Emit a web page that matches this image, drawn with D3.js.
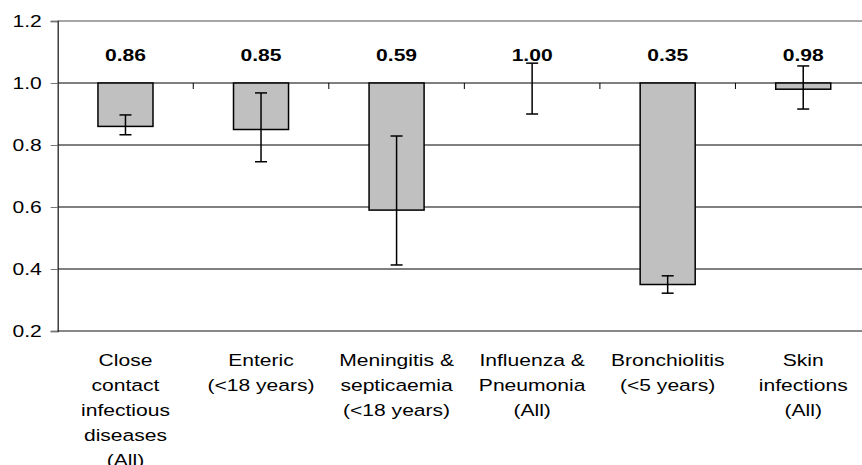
<!DOCTYPE html>
<html>
<head>
<meta charset="utf-8">
<script src="https://cdn.jsdelivr.net/npm/d3@7"></script>
<style>
  html, body { margin: 0; padding: 0; background: #fff; overflow: hidden; }
  text { font-family: Arial, "Liberation Sans", sans-serif; fill: #000; }
</style>
</head>
<body>
<svg id="chart" width="862" height="465"></svg>
<script>
const categories = [
    ["Close", "contact", "infectious", "diseases", "(All)"],
    ["Enteric", "(<18 years)"],
    ["Meningitis &", "septicaemia", "(<18 years)"],
    ["Influenza &", "Pneumonia", "(All)"],
    ["Bronchiolitis", "(<5 years)"],
    ["Skin", "infections", "(All)"]
];
const values = [0.86, 0.85, 0.59, 1.00, 0.35, 0.98];
const lower = [0.833, 0.746, 0.413, 0.90, 0.322, 0.916];
const upper = [0.897, 0.968, 0.829, 1.064, 0.378, 1.055];
const yTicks = [0.2, 0.4, 0.6, 0.8, 1.0, 1.2];

const WIDTH = 862, HEIGHT = 465;
const plotLeft = 57.7, plotTop = 21, plotBottom = 331, plotRight = 871;
const STRETCH = 1.24;   // text in the picture is wider than plain Arial

const svg = d3.select("#chart");

const keys = categories.map((c, i) => i);

const xCat = d3.scaleBand()
    .domain(keys)
    .range([plotLeft, plotRight])
    .padding(0);

const xBar = xCat.copy()
    .paddingInner(0.594)
    .paddingOuter(0.297);

const y = d3.scaleLinear()
    .domain([0.2, 1.2])
    .range([plotBottom, plotTop]);

// gridlines
svg.append("g").selectAll("line")
    .data(yTicks)
    .join("line")
    .attr("x1", plotLeft)
    .attr("x2", WIDTH)
    .attr("y1", d => y(d))
    .attr("y2", d => y(d))
    .attr("stroke", d => (d === 0.2 || d === 1.2) ? "#888" : "#000")
    .attr("stroke-width", d => d === 0.2 ? 2 : (d === 1.2 ? 1.5 : 1));

// left axis
const yAxis = svg.append("g")
    .attr("transform", `translate(${plotLeft},0)`)
    .call(d3.axisLeft(y).tickValues(yTicks).tickSize(7).tickFormat(d3.format(".1f")));
yAxis.select(".domain").attr("stroke", "#222").attr("stroke-width", 1.3);
yAxis.selectAll(".tick line").attr("stroke", "#777");
yAxis.selectAll(".tick text")
    .attr("x", null).attr("dy", null)
    .attr("font-size", 17)
    .attr("dominant-baseline", "middle")
    .attr("text-anchor", "end")
    .attr("transform", `translate(-16,1) scale(${STRETCH},1)`);

// category ticks on the 1.0 line
svg.append("g").selectAll("line")
    .data(keys.slice(1))
    .join("line")
    .attr("x1", d => xCat(d))
    .attr("x2", d => xCat(d))
    .attr("y1", y(1.0))
    .attr("y2", y(1.0) + 6)
    .attr("stroke", "#000")
    .attr("stroke-width", 1);

// bars hang from 1.0
svg.append("g").selectAll("rect")
    .data(keys)
    .join("rect")
    .attr("x", d => xBar(d))
    .attr("width", xBar.bandwidth())
    .attr("y", d => y(Math.max(1, values[d])))
    .attr("height", d => Math.abs(y(values[d]) - y(1)))
    .attr("fill", "#c0c0c0")
    .attr("stroke", "#000")
    .attr("stroke-width", d => values[d] === 1 ? 0 : 1.5);

// error bars
const err = svg.append("g").selectAll("g")
    .data(keys)
    .join("g")
    .attr("stroke", "#000")
    .attr("stroke-width", 1.5);
const cx = d => xBar(d) + xBar.bandwidth() / 2;
err.append("line")
    .attr("x1", cx).attr("x2", cx)
    .attr("y1", d => y(upper[d])).attr("y2", d => y(lower[d]));
err.append("line")
    .attr("x1", d => cx(d) - 6).attr("x2", d => cx(d) + 6)
    .attr("y1", d => y(upper[d])).attr("y2", d => y(upper[d]));
err.append("line")
    .attr("x1", d => cx(d) - 6).attr("x2", d => cx(d) + 6)
    .attr("y1", d => y(lower[d])).attr("y2", d => y(lower[d]));

// value labels
svg.append("g").selectAll("text")
    .data(keys)
    .join("text")
    .attr("transform", d => `translate(${cx(d)},61) scale(${STRETCH},1)`)
    .attr("text-anchor", "middle")
    .attr("font-size", 17)
    .attr("font-weight", "bold")
    .text(d => d3.format(".2f")(values[d]));

// category labels
const catText = svg.append("g").selectAll("text")
    .data(keys)
    .join("text")
    .attr("transform", d => `translate(${xCat(d) + xCat.bandwidth() / 2},366) scale(${STRETCH},1)`)
    .attr("text-anchor", "middle")
    .attr("font-size", 17);
catText.selectAll("tspan")
    .data(d => categories[d])
    .join("tspan")
    .attr("x", 0)
    .attr("y", (d, i) => i * 25)
    .text(d => d);
</script>
</body>
</html>
